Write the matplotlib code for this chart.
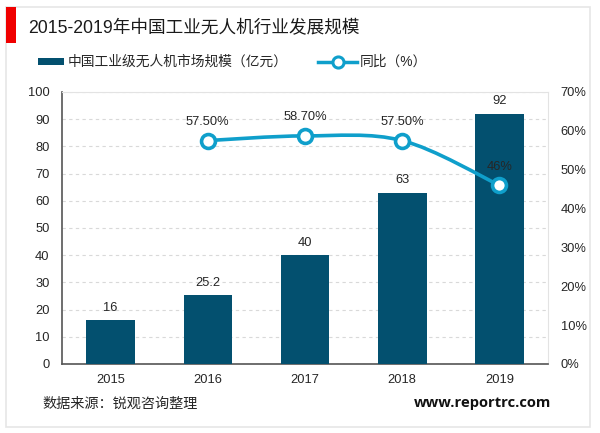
import matplotlib
matplotlib.use('Agg')
import matplotlib.pyplot as plt
from matplotlib.patches import Rectangle, PathPatch
from matplotlib.path import Path
from matplotlib.lines import Line2D

plt.rcParams['font.family'] = ['Liberation Sans', 'Noto Sans CJK SC', 'DejaVu Sans']

anos = ['2015', '2016', '2017', '2018', '2019']
mercado = [16, 25.2, 40, 63, 92]
mercado_labels = ['16', '25.2', '40', '63', '92']
tb_x = [1, 2, 3, 4]
tb = [57.5, 58.7, 57.5, 46]
tb_labels = ['57.50%', '58.70%', '57.50%', '46%']

W, H = 600, 433
cor_barra = '#03506f'
cor_linha = '#0f9fcb'
cor_texto = '#262626'

fig = plt.figure(figsize=(W / 100, H / 100), dpi=100)

# moldura e barra vermelha, em pixels da imagem
fundo = fig.add_axes([0, 0, 1, 1])
fundo.set_xlim(0, W)
fundo.set_ylim(H, 0)
fundo.axis('off')
fundo.add_patch(Rectangle((6, 7), 584, 420, fc='white', ec='#e6e6e6', lw=1.2))
fundo.add_patch(Rectangle((6, 7), 10, 36, fc='#f00000', ec='none'))

fundo.text(28, 29, '2015-2019年中国工业无人机行业发展规模', fontsize=12.7,
           color='#1a1a1a', va='center')

# legenda
fundo.add_patch(Rectangle((38, 58), 26, 7, fc=cor_barra, ec='none'))
fundo.text(68, 62, '中国工业级无人机市场规模（亿元）', fontsize=9.9, color=cor_texto, va='center')
fundo.add_line(Line2D([318, 357], [62, 62], color=cor_linha, lw=2.5))
fundo.add_line(Line2D([337.5], [62], marker='o', ms=8, mfc='white', mec=cor_linha, mew=2.2))
fundo.text(360, 62, '同比（%）', fontsize=9.9, color=cor_texto, va='center')

fundo.text(42, 404, '数据来源：锐观咨询整理', fontsize=10.2, color=cor_texto, va='center')
fundo.text(551, 403, 'www.reportrc.com', fontsize=10.6, color='#111111', fontweight='bold',
           family=['Open Sans', 'DejaVu Sans'], va='center', ha='right')

# grafico
ax = fig.add_axes([62 / W, 1 - 364 / H, 486 / W, 272 / H])
ax.patch.set_alpha(0)
ax.bar(range(len(anos)), mercado, width=0.5, color=cor_barra, zorder=3)
ax.set_xlim(-0.5, 4.5)
ax.set_ylim(0, 100)
ax.set_yticks(range(0, 101, 10))
ax.set_xticks(range(len(anos)))
ax.set_xticklabels(anos)
ax.tick_params(axis='both', length=0, labelsize=9.3, colors=cor_texto)
ax.tick_params(axis='x', pad=7)
ax.tick_params(axis='y', pad=9)
ax.grid(axis='y', color='#d9d9d9', linestyle=(0, (3, 3)), lw=0.8, zorder=0)
ax.spines['left'].set_color('#555555')
ax.spines['bottom'].set_color('#555555')
ax.spines['left'].set_linewidth(1.2)
ax.spines['bottom'].set_linewidth(1.2)
ax.spines['top'].set_color('#e3e3e3')
ax.spines['right'].set_color('#e3e3e3')

for i, v in enumerate(mercado):
    ax.text(i, v + 2.4, mercado_labels[i], ha='center', va='bottom', fontsize=9.3, color=cor_texto, zorder=6)

ax2 = ax.twinx()
ax2.patch.set_alpha(0)
ax2.set_ylim(0, 70)
ax2.set_yticks(range(0, 71, 10))
ax2.set_yticklabels([f'{p}%' for p in range(0, 71, 10)])
ax2.tick_params(axis='y', length=0, labelsize=9.3, colors=cor_texto, pad=9)
for s in ax2.spines.values():
    s.set_visible(False)

# linha suavizada: bezier passando pelos pontos
verts = [(tb_x[0], tb[0])]
codes = [Path.MOVETO]
n = len(tb)
for i in range(n - 1):
    x0, y0 = tb_x[max(i - 1, 0)], tb[max(i - 1, 0)]
    x1, y1 = tb_x[i], tb[i]
    x2, y2 = tb_x[i + 1], tb[i + 1]
    x3, y3 = tb_x[min(i + 2, n - 1)], tb[min(i + 2, n - 1)]
    verts += [(x1 + (x2 - x0) / 6, y1 + (y2 - y0) / 6),
              (x2 - (x3 - x1) / 6, y2 - (y3 - y1) / 6),
              (x2, y2)]
    codes += [Path.CURVE4] * 3
ax2.add_patch(PathPatch(Path(verts, codes), fc='none', ec=cor_linha, lw=2.6, zorder=4))
ax2.plot(tb_x, tb, linestyle='none', marker='o', ms=10, mfc='white', mec=cor_linha, mew=2.6, zorder=5)

for x, y, txt in zip(tb_x, tb, tb_labels):
    ax2.text(x, y + 3.2, txt, ha='center', va='bottom', fontsize=9.3, color=cor_texto, zorder=6)

fig.savefig('out.png', dpi=100)
